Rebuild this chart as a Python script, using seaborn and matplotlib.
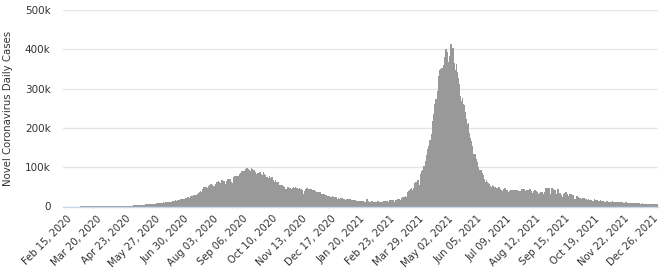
import numpy as np
import pandas as pd
import matplotlib
matplotlib.use("Agg")
import matplotlib.pyplot as plt
import seaborn as sns

# ---------------- data (daily new cases) ----------------
start_date = "2020-02-15"

cases_2020_02 = [0] * 15
cases_2020_03 = [0, 2, 1, 22, 2, 1, 3, 5, 4, 1, 18, 11, 8, 8, 14, 4, 28, 10, 26, 48,
                 62, 72, 92, 119, 96, 88, 176, 110, 183, 221, 220]
cases_2020_04 = [601, 545, 478, 515, 506, 703, 508, 485, 591, 896, 768, 918, 905, 1463, 1248,
                 1034, 1108, 1086, 1576, 1334, 1553, 1336, 1383, 1408, 1752, 1607, 1561, 1873, 1738, 1801]
cases_2020_05 = [2396, 2564, 2952, 3656, 2971, 3602, 3344, 3339, 3175, 4311, 3592, 3562, 3726, 3967, 3970,
                 4987, 5242, 4630, 6154, 5720, 6025, 6570, 6665, 7111, 6414, 5843, 7293, 7300, 8105, 8336, 8782]
cases_2020_06 = [7723, 8812, 9689, 9849, 9887, 10218, 9982, 9266, 10218, 12375, 10667, 12566, 11929, 11502, 10667,
                 11056, 14516, 13586, 14721, 15915, 14830, 14424, 15968, 16868, 17296, 18256, 19428, 20131, 18339, 18522]
cases_2020_07 = [19148, 20903, 22771, 24850, 24248, 22252, 22752, 25571, 26506, 27114, 28637, 29108, 28178, 28498, 29429,
                 32607, 34820, 37411, 38697, 37148, 37724, 45720, 49310, 48916, 49000, 50072, 46484, 49631, 52479, 55078, 57118]
cases_2020_08 = [54735, 53601, 52050, 51282, 52509, 56282, 62538, 61537, 65156, 62064, 53601, 60963, 66999, 64553, 65002,
                 63490, 57982, 55079, 64531, 69652, 68898, 69878, 69239, 61408, 60975, 67151, 75760, 77266, 76472, 78761, 69921]
cases_2020_09 = [78357, 83883, 83341, 86432, 90632, 90802, 75809, 89706, 95735, 96551, 97570, 94372, 92071, 83809, 90123,
                 97894, 96424, 93337, 92605, 86961, 75083, 83347, 86508, 86052, 85362, 88600, 82170, 70589, 80472, 86821]
cases_2020_10 = [81484, 79476, 75829, 74442, 61267, 72049, 78524, 70496, 73272, 74383, 66732, 55342, 63509, 67708, 63371,
                 62212, 61871, 55722, 46790, 54044, 55838, 54366, 53370, 50129, 45149, 36469, 43893, 49881, 48648, 46963, 46964]
cases_2020_11 = [45231, 38310, 46253, 50210, 47638, 50357, 45674, 45903, 38073, 44281, 47905, 44879, 44684, 41100, 30548,
                 29163, 38617, 45576, 45882, 46232, 45209, 44059, 37975, 44376, 43082, 43174, 41322, 41810, 38772, 31118]
cases_2020_12 = [36604, 35551, 36595, 36652, 36011, 32981, 26567, 32080, 31522, 29398, 30006, 30254, 27071, 22065, 26382,
                 24010, 22889, 25152, 26624, 24337, 19556, 23950, 24712, 23068, 18732, 22273, 20021, 16432, 20550, 21822, 20035]
cases_2021_01 = [19078, 18177, 16504, 16375, 18088, 20346, 18139, 18222, 18645, 16311, 12584, 15968, 16946, 15590, 15158,
                 15144, 13788, 10064, 13823, 15223, 14545, 14256, 14849, 13203, 9102, 12689, 11666, 18855, 13083, 13052, 11427]
cases_2021_02 = [8635, 11039, 12899, 12408, 11713, 12059, 11831, 9110, 11067, 12923, 9309, 12143, 11649, 12194, 9121,
                 11610, 12881, 13193, 13993, 14264, 14199, 10584, 13742, 16738, 16577, 16488, 16752, 15510]
cases_2021_03 = [12286, 14989, 17407, 16838, 18327, 18711, 18599, 15388, 17921, 22854, 23285, 24882, 25320, 26291, 24492,
                 28903, 35871, 39726, 40953, 43846, 46951, 40715, 47262, 53476, 59118, 62258, 62714, 68020, 56211, 53480, 72330]
cases_2021_04 = [81466, 89129, 93249, 103558, 96982, 115736, 126789, 131968, 145384, 152879, 168912, 161736, 184372, 200739, 217353,
                 234692, 261500, 273810, 259170, 295041, 314835, 332730, 346786, 349691, 352991, 323144, 360960, 379257, 386452, 401993]
cases_2021_05 = [392488, 368147, 357229, 382315, 412262, 414188, 401078, 403738, 366161, 329942, 348421, 362727, 343144, 326098, 311170,
                 281386, 263533, 267334, 276070, 259551, 257299, 240842, 222315, 196427, 208921, 211298, 186364, 173790, 165553, 152734, 127510]
cases_2021_06 = [132788, 134154, 132364, 120529, 114460, 100636, 86498, 92596, 94052, 91702, 84332, 80834, 70421, 60471, 62224,
                 67208, 62480, 60753, 58419, 53256, 42640, 50848, 54069, 51667, 48698, 50040, 46148, 37566, 45951, 48786]
cases_2021_07 = [46617, 44111, 43071, 39796, 34703, 43733, 45892, 43393, 42766, 41506, 37154, 31443, 38792, 41806, 38949,
                 41157, 38079, 41157, 30093, 42015, 41383, 35342, 39097, 39742, 39361, 29689, 43654, 43509, 44230, 41649, 40134]
cases_2021_08 = [30549, 42625, 42982, 42982, 44643, 38628, 39070, 35499, 28204, 38353, 41195, 40120, 38667, 36083, 32937,
                 25166, 35178, 36401, 36571, 34457, 30948, 25072, 37593, 46164, 44658, 46759, 45083, 46000, 30941, 41965, 47092]
cases_2021_09 = [45352, 42618, 42766, 38948, 31222, 37875, 43263, 34973, 33376, 28591, 27254, 25404, 27176, 30570, 34403,
                 35662, 30773, 30256, 26115, 26964, 31923, 31382, 29616, 28326, 26041, 18795, 18870, 23529, 26727, 24354]
cases_2021_10 = [22842, 22842, 20799, 18346, 18833, 22431, 21257, 19740, 18166, 14313, 15823, 18987, 16862, 15981, 15981,
                 14146, 13596, 14623, 18454, 15786, 16326, 15906, 14306, 12428, 14623, 16156, 14348, 14313, 12830, 12514, 10423]
cases_2021_11 = [11903, 12885, 12729, 10929, 10853, 11451, 10126, 11466, 13091, 12516, 11850, 11271, 10271, 8865, 10197,
                 11919, 11106, 10302, 10488, 10488, 8488, 7579, 9283, 10549, 10549, 8318, 8774, 6990, 8954, 9765]
cases_2021_12 = [9216, 8603, 8895, 8306, 6822, 8439, 9419, 8503, 7992, 7774, 7350, 5784, 6984, 7974, 7447,
                 7145, 7081, 6563, 5326, 6317, 7495, 6650, 7189, 6987, 6531, 6358, 6780, 6900, 7100, 7000, 6800]

tick_labels = ["Feb 15, 2020", "Mar 20, 2020", "Apr 23, 2020", "May 27, 2020", "Jun 30, 2020",
               "Aug 03, 2020", "Sep 06, 2020", "Oct 10, 2020", "Nov 13, 2020", "Dec 17, 2020",
               "Jan 20, 2021", "Feb 23, 2021", "Mar 29, 2021", "May 02, 2021", "Jun 05, 2021",
               "Jul 09, 2021", "Aug 12, 2021", "Sep 15, 2021", "Oct 19, 2021", "Nov 22, 2021",
               "Dec 26, 2021"]
y_ticks = [0, 100000, 200000, 300000, 400000, 500000]
y_tick_labels = ["0", "100k", "200k", "300k", "400k", "500k"]
y_title = "Novel Coronavirus Daily Cases"

# ---------------- assemble ----------------
cases = (cases_2020_02 + cases_2020_03 + cases_2020_04 + cases_2020_05 + cases_2020_06 +
         cases_2020_07 + cases_2020_08 + cases_2020_09 + cases_2020_10 + cases_2020_11 +
         cases_2020_12 + cases_2021_01 + cases_2021_02 + cases_2021_03 + cases_2021_04 +
         cases_2021_05 + cases_2021_06 + cases_2021_07 + cases_2021_08 + cases_2021_09 +
         cases_2021_10 + cases_2021_11 + cases_2021_12)
dates = pd.date_range(start_date, periods=len(cases), freq="D")
df = pd.DataFrame({"date": dates, "day": np.arange(len(cases)), "cases": cases})

label_dates = pd.to_datetime(tick_labels, format="%b %d, %Y")
tick_pos = [int((d - dates[0]).days) for d in label_dates]

# ---------------- plot ----------------
sns.set_theme(style="white")
plt.rcParams["font.family"] = ["DejaVu Sans"]

fig = plt.figure(figsize=(6.64, 2.77), dpi=100)
ax = fig.add_axes([63 / 664, 1 - 206.5 / 277, (658 - 63) / 664, (206.5 - 10) / 277])

# columns slightly wider than a day so neighbours overlap, like sub-pixel columns in the original
sns.barplot(data=df, x="day", y="cases", native_scale=True, width=1.8,
            color="#999999", saturation=1, linewidth=0, errorbar=None, ax=ax)

ax.set_xlim(-4.6, 685.8)
ax.set_ylim(0, 500000)
ax.set_yticks(y_ticks)
ax.set_yticklabels(y_tick_labels)
ax.set_xticks(tick_pos)
ax.set_xticklabels(tick_labels, rotation=45, ha="right", rotation_mode="anchor")
ax.set_xlabel("")
ax.set_ylabel("")

ax.yaxis.grid(True, color="#e6e6e6", linewidth=1)
ax.xaxis.grid(False)
ax.set_axisbelow(True)
for side in ["top", "right", "left"]:
    ax.spines[side].set_visible(False)
ax.spines["bottom"].set_color("#ccd6eb")
ax.spines["bottom"].set_linewidth(1)

ax.tick_params(axis="x", length=0, pad=5, labelsize=7.2, labelcolor="#333333")
ax.tick_params(axis="y", length=0, pad=9, labelsize=7.5, labelcolor="#333333")

fig.text(8.5 / 664, 1 - 108 / 277, y_title, rotation=90, ha="center", va="center",
         fontsize=7.3, color="#333333")

fig.savefig("out.png", dpi=100, facecolor="white")
